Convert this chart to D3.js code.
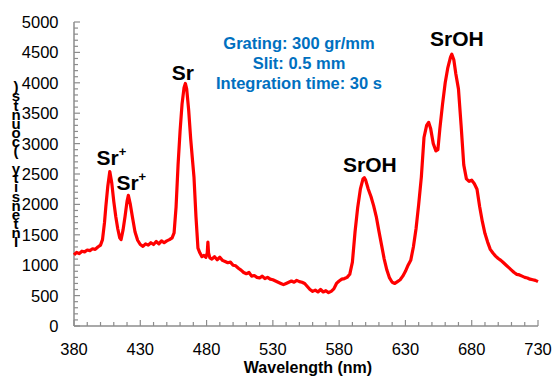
<!DOCTYPE html>
<html><head><meta charset="utf-8">
<script src="https://cdn.jsdelivr.net/npm/d3@7"></script>
<style>body{margin:0;background:#fff}svg{display:block}text{font-family:"Liberation Sans",Arial,sans-serif}</style>
</head><body>
<script>
const wavelengths = [380,382,384,386,388,390,392,394,396,398,400,401.5,403,404,405.5,407,408.5,410,411.5,413,414.5,415.5,417,418.5,420,421,422.5,424,426,428,430,432,434,436,438,440,442,444,446,448,450,452,454,455.5,457,458.5,460,461.5,463,464,465,466.5,468,469.5,470.5,472,473.5,475,476.5,478,479.5,480.5,481,481.5,482.5,484,486,488,490,492,494,496,498,500,502,504,506,508,510,512,514,516,518,520,522,524,526,528,530,532,534,536,538,540,542,544,546,548,550,552,554,556,558,560,562,564,566,568,570,572,574,576,578,580,582,584,586,588,590,592,594,596,598,599,600,602,604,606,608,610,612,614,616,618,620,622,624,626,628,630,632,634,636,638,640,642,644,646,647.5,649,651,653,654.5,656,658,660,662,664,665,666.5,668,670,672,674,676,678,680,682,684,686,688,690,692,694,696,698,700,702,704,706,708,710,712,714,716,718,720,722,724,726,728,730];
const intensities = [1170,1210,1190,1230,1220,1250,1240,1270,1260,1300,1330,1420,1700,1960,2300,2540,2350,2050,1800,1600,1450,1420,1580,1800,2050,2150,2000,1800,1550,1410,1340,1310,1350,1330,1370,1340,1390,1350,1400,1370,1400,1420,1450,1530,1960,2650,3200,3650,3920,3990,3900,3550,3080,2700,2450,1800,1280,1200,1140,1160,1130,1200,1380,1200,1120,1100,1140,1090,1130,1080,1060,1040,1050,1000,990,950,920,880,860,880,820,830,800,790,820,780,800,770,760,740,720,700,680,700,720,740,720,750,730,720,700,650,600,570,590,560,600,560,580,550,570,610,700,740,770,780,800,850,1050,1550,1950,2250,2420,2440,2400,2250,2130,1980,1800,1560,1330,1100,920,790,720,700,730,760,820,900,1000,1080,1300,1600,2000,2450,3100,3300,3350,3250,3000,2880,2900,3250,3650,4000,4250,4420,4470,4380,4150,3900,3300,2650,2420,2380,2400,2340,2250,1960,1720,1520,1380,1260,1200,1150,1110,1080,1040,1000,960,920,880,850,840,820,800,790,770,760,750,730];
const xTicks = [380,430,480,530,580,630,680,730];
const yTicks = [0,500,1000,1500,2000,2500,3000,3500,4000,4500,5000];
const infoLines = ["Grating: 300 gr/mm","Slit: 0.5 mm","Integration time: 30 s"];
const peakLabels = [
  {text:"Sr", sup:"+", w:397, v:2640},
  {text:"Sr", sup:"+", w:412, v:2240},
  {text:"Sr", sup:"", w:453.8, v:4050},
  {text:"SrOH", sup:"", w:583, v:2540},
  {text:"SrOH", sup:"", w:648.5, v:4600}
];
const yTitle = "Intensity (counts)";
const xTitle = "Wavelength (nm)";

const W=553,H=379;
const svg=d3.select("body").append("svg").attr("width",W).attr("height",H);
const x=d3.scaleLinear().domain([380,730]).range([74,538]);
const y=d3.scaleLinear().domain([0,5000]).range([326,22]);
const axisColor="#8c8c8c";

const g=svg.append("g");
g.selectAll(".ym").data(d3.range(0,5001,100)).join("line")
  .attr("x1",74).attr("x2",d=>d%500===0?80:78).attr("y1",d=>y(d)).attr("y2",d=>y(d))
  .attr("stroke",axisColor).attr("stroke-width",1.2);
g.selectAll(".xm").data(d3.range(380,731,10)).join("line")
  .attr("x1",d=>x(d)).attr("x2",d=>x(d)).attr("y1",326).attr("y2",d=>(d-380)%50===0?320:322)
  .attr("stroke",axisColor).attr("stroke-width",1.2);
g.append("line").attr("x1",74).attr("x2",74).attr("y1",22).attr("y2",326).attr("stroke",axisColor).attr("stroke-width",1.5);
g.append("line").attr("x1",74).attr("x2",538).attr("y1",326).attr("y2",326).attr("stroke",axisColor).attr("stroke-width",1.5);

svg.selectAll(".yl").data(yTicks).join("text")
  .attr("x",58.5).attr("y",d=>y(d)+6).attr("text-anchor","end")
  .attr("font-size",16.5).attr("fill","#000").text(d=>d);
svg.selectAll(".xl").data(xTicks).join("text")
  .attr("x",d=>x(d)).attr("y",355).attr("text-anchor","middle")
  .attr("font-size",16.5).attr("fill","#000").text(d=>d);

const line=d3.line().x((d,i)=>x(wavelengths[i])).y(d=>y(d));
svg.append("path").datum(intensities).attr("d",line)
  .attr("fill","none").attr("stroke","#ff0000").attr("stroke-width",3.2).attr("stroke-linejoin","round");

svg.append("text").attr("x",308).attr("y",373).attr("text-anchor","middle")
  .attr("font-size",16).attr("font-weight","bold").text(xTitle);

const chars=yTitle.split("");
svg.selectAll(".yt").data(chars).join("text")
  .attr("x",16).attr("y",(d,i)=>247-i*9.1).attr("text-anchor","middle")
  .attr("font-size",15).attr("font-weight","bold").attr("fill","#000").text(d=>d);

svg.selectAll(".info").data(infoLines).join("text")
  .attr("x",299).attr("y",(d,i)=>49+i*20).attr("text-anchor","middle")
  .attr("font-size",16.5).attr("font-weight","bold").attr("fill","#0070c0").text(d=>d);

peakLabels.forEach(p=>{
  const t=svg.append("text").attr("x",x(p.w)).attr("y",y(p.v))
    .attr("font-size",21).attr("font-weight","bold").attr("fill","#000");
  t.append("tspan").text(p.text);
  if(p.sup) t.append("tspan").attr("font-size",13).attr("dy",-9).text(p.sup);
});
</script>
</body></html>
